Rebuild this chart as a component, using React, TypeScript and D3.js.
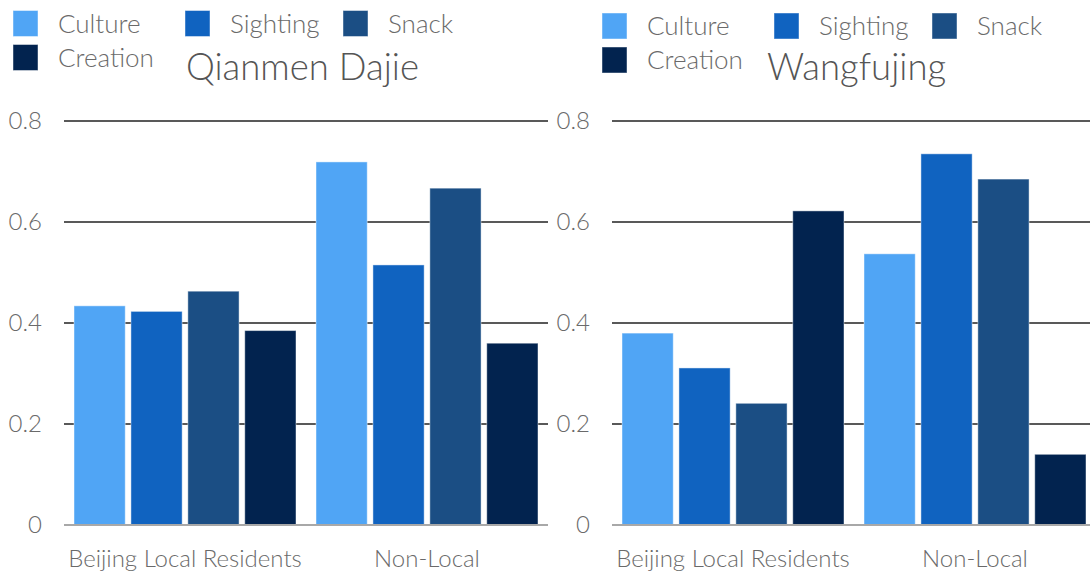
import React from "react";
import * as d3 from "d3";

const groups = ["Beijing Local Residents", "Non-Local"];
const seriesNames = ["Culture", "Sighting", "Snack", "Creation"];
const seriesColors = ["#50a5f5", "#1063c0", "#1b4e84", "#02234f"];
const yTicks = [0, 0.2, 0.4, 0.6, 0.8];

// values[group][series]
const qianmenValues = [
  [0.434, 0.423, 0.463, 0.385],
  [0.719, 0.515, 0.667, 0.36],
];
const wangfujingValues = [
  [0.38, 0.311, 0.241, 0.622],
  [0.537, 0.735, 0.685, 0.14],
];

const FONT = "Lato, 'Open Sans', sans-serif";
const TEXT = "#6a6a6a";

type PanelProps = {
  title: string;
  values: number[][];
  plotLeft: number;
  legendX: number;
  legendY: number;
  titleX: number;
};

function Panel({ title, values, plotLeft, legendX, legendY, titleX }: PanelProps) {
  const plotWidth = 484;
  const y = d3.scaleLinear().domain([0, 0.8]).range([525, 121]);
  const x0 = d3.scaleBand<string>().domain(groups).range([plotLeft, plotLeft + plotWidth]);
  const x1 = d3
    .scaleBand<string>()
    .domain(seriesNames)
    .range([10, x0.bandwidth() - 10])
    .paddingInner(0.1);

  const legendOffsets = [0, 172, 330];
  return (
    <g>
      {/* gridlines */}
      {yTicks.map((t) =>
        t === 0 ? null : (
          <line
            key={"g" + t}
            x1={plotLeft}
            x2={plotLeft + plotWidth}
            y1={y(t)}
            y2={y(t)}
            stroke="#222"
            strokeWidth={1.4}
          />
        )
      )}
      {yTicks.map((t) => (
        <text
          key={"t" + t}
          x={plotLeft - 22}
          y={y(t)}
          dy="0.35em"
          textAnchor="end"
          fontFamily={FONT}
          fontWeight={300}
          fontSize={24}
          fill={TEXT}
        >
          {t === 0 ? "0" : d3.format(".1f")(t)}
        </text>
      ))}
      {/* bars */}
      {groups.map((g, gi) =>
        seriesNames.map((s, si) => (
          <rect
            key={g + s}
            x={(x0(g) as number) + (x1(s) as number)}
            y={y(values[gi][si])}
            width={x1.bandwidth()}
            height={y(0) - y(values[gi][si])}
            fill={seriesColors[si]}
            stroke="rgba(255,255,255,0.45)"
            strokeWidth={1}
          />
        ))
      )}
      <line
        x1={plotLeft}
        x2={plotLeft + plotWidth}
        y1={y(0)}
        y2={y(0)}
        stroke="#a8a8a8"
        strokeWidth={2}
      />
      {/* x labels */}
      {groups.map((g) => (
        <text
          key={"x" + g}
          x={(x0(g) as number) + x0.bandwidth() / 2}
          y={567}
          textAnchor="middle"
          fontFamily={FONT}
          fontWeight={300}
          fontSize={24}
          fill={TEXT}
        >
          {g}
        </text>
      ))}
      {/* legend */}
      {seriesNames.map((s, i) => {
        const lx = i < 3 ? legendX + legendOffsets[i] : legendX;
        const ly = i < 3 ? legendY : legendY + 34;
        return (
          <g key={"l" + s}>
            <rect x={lx} y={ly} width={25} height={26} fill={seriesColors[i]} stroke="rgba(255,255,255,0.45)" strokeWidth={1} />
            <text
              x={lx + 45}
              y={ly + 13}
              dy="0.36em"
              fontFamily={FONT}
              fontWeight={300}
              fontSize={26}
              fill={TEXT}
            >
              {s}
            </text>
          </g>
        );
      })}
      <text
        x={titleX}
        y={80}
        fontFamily={FONT}
        fontWeight={300}
        fontSize={36.5}
        fill="#555"
      >
        {title}
      </text>
    </g>
  );
}

export default function App() {
  return (
    <svg
      width={1090}
      height={574}
      style={{ position: "absolute", left: 0, top: 0, background: "#fff" }}
    >
      <Panel title="Qianmen Dajie" values={qianmenValues} plotLeft={64} legendX={13} legendY={10.5} titleX={186} />
      <Panel title="Wangfujing" values={wangfujingValues} plotLeft={612} legendX={602} legendY={13} titleX={767} />
    </svg>
  );
}
